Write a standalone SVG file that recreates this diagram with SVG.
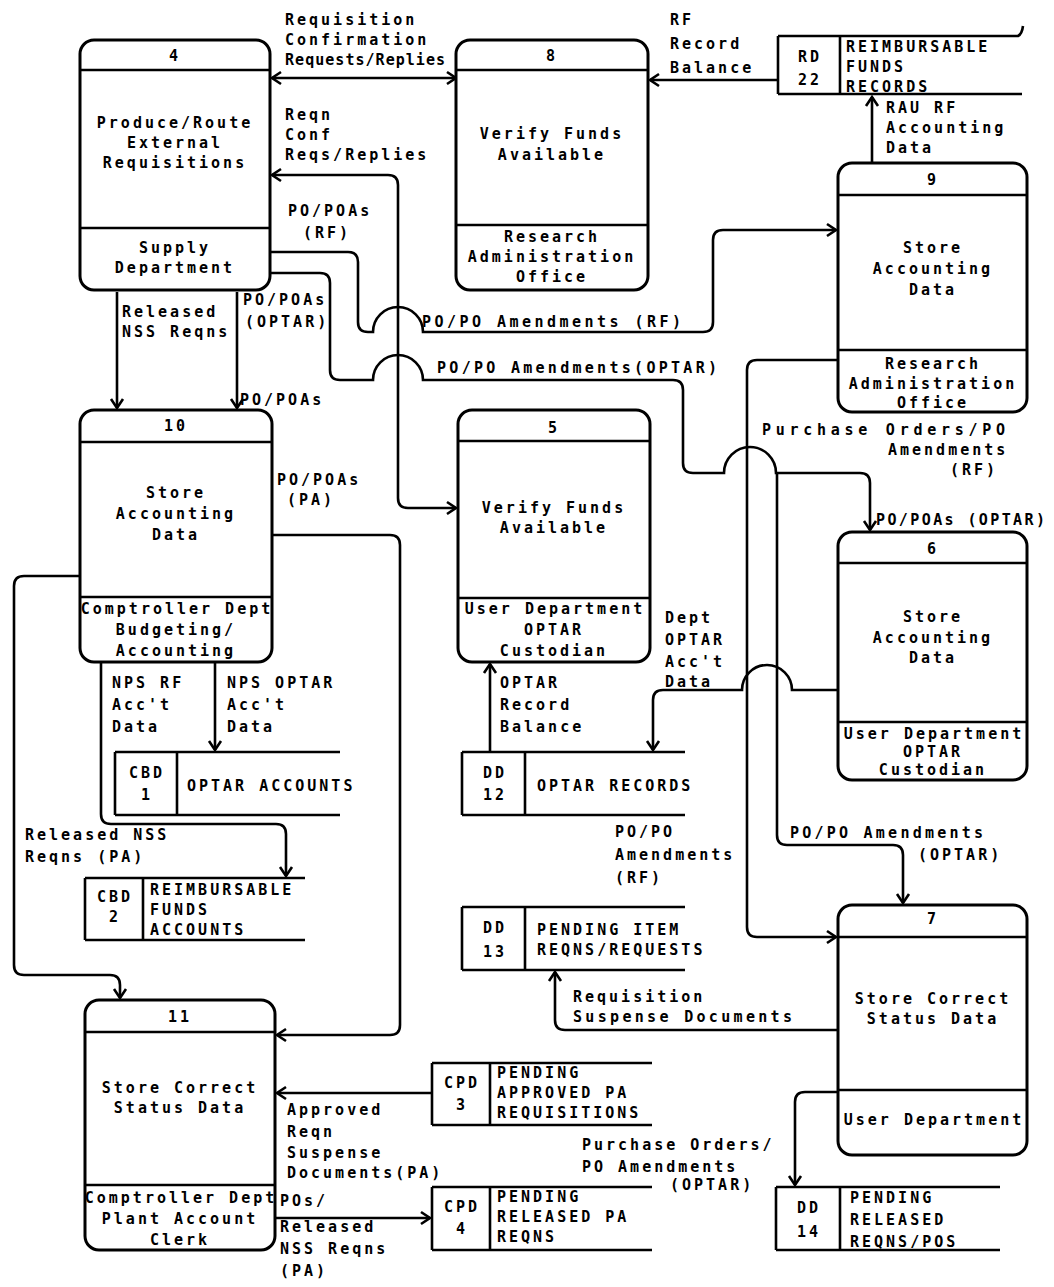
<svg xmlns="http://www.w3.org/2000/svg" width="1054" height="1287" viewBox="0 0 1054 1287">
<style>
text{font-family:"DejaVu Sans Mono","Liberation Mono",monospace;font-size:15px;font-weight:bold;letter-spacing:3px;fill:#000}
.c{text-anchor:middle}
.box{fill:#fff;stroke:#000;stroke-width:3}
.ln{fill:none;stroke:#000;stroke-width:2.6}
.st{fill:none;stroke:#000;stroke-width:2.6}
.fl{fill:none;stroke:#000;stroke-width:2.6;marker-end:url(#ah)}
.bi{fill:none;stroke:#000;stroke-width:2.6;marker-end:url(#ah);marker-start:url(#ah)}
</style>
<defs>
<marker id="ah" viewBox="-12 -8 14 16" markerWidth="14" markerHeight="16" refX="0" refY="0" orient="auto-start-reverse" markerUnits="userSpaceOnUse">
<path d="M-9,-6 L0,0 L-9,6" fill="none" stroke="#000" stroke-width="2.6"/>
</marker>
</defs>
<rect width="1054" height="1287" fill="#fff"/>

<g id="connectors">
<path class="bi" d="M272,78 H456"/>
<path class="fl" d="M778,80 H650"/>
<path class="fl" d="M872,163 V97"/>
<path class="bi" d="M272,175 H388 Q398,175 398,185 V498 Q398,508 408,508 H456"/>
<path class="fl" d="M270,252 H348 Q358,252 358,262 V322 Q358,332 368,332 H373 A25,25 0 0 1 423,332 H703 Q713,332 713,322 V240 Q713,230 723,230 H836"/>
<path class="fl" d="M270,273 H320 Q330,273 330,283 V370 Q330,380 340,380 H373 A25,25 0 0 1 423,380 H673 Q683,380 683,390 V463 Q683,473 693,473 H724 A26,26 0 0 1 776,473 H860 Q870,473 870,483 V530"/>
<path class="fl" d="M777,473 V835 Q777,845 787,845 H893 Q903,845 903,855 V903"/>
<path class="fl" d="M838,360 H757 Q747,360 747,370 V927 Q747,937 757,937 H836"/>
<path class="fl" d="M838,690 H792 A25,25 0 0 0 742,690 H663 Q653,690 653,700 V750"/>
<path class="fl" d="M117,292 V408"/>
<path class="fl" d="M237,292 V408"/>
<path class="fl" d="M272,535 H390 Q400,535 400,545 V1025 Q400,1035 390,1035 H277"/>
<path class="fl" d="M80,576 H24 Q14,576 14,586 V965 Q14,975 24,975 H110 Q120,975 120,985 V998"/>
<path class="fl" d="M101,662 V814 Q101,824 111,824 H276 Q286,824 286,834 V876"/>
<path class="fl" d="M215,662 V750"/>
<path class="fl" d="M490,752 V664"/>
<path class="fl" d="M838,1030 H565 Q555,1030 555,1020 V972"/>
<path class="fl" d="M432,1093 H277"/>
<path class="fl" d="M275,1218 H430"/>
<path class="fl" d="M838,1092 H805 Q795,1092 795,1102 V1185"/>
</g>

<g id="labels">
<text x="285" y="25">Requisition</text>
<text x="285" y="45">Confirmation</text>
<text x="285" y="65" textLength="163" lengthAdjust="spacing">Requests/Replies</text>
<text x="285" y="120">Reqn</text>
<text x="285" y="140">Conf</text>
<text x="285" y="160">Reqs/Replies</text>
<text x="670" y="25">RF</text>
<text x="670" y="49">Record</text>
<text x="670" y="73">Balance</text>
<text x="886" y="113">RAU RF</text>
<text x="886" y="133">Accounting</text>
<text x="886" y="153">Data</text>
<text x="288" y="216">PO/POAs</text>
<text x="303" y="238">(RF)</text>
<text x="243" y="305">PO/POAs</text>
<text x="245" y="327">(OPTAR)</text>
<text x="122" y="317">Released</text>
<text x="122" y="337">NSS Reqns</text>
<text x="240" y="405">PO/POAs</text>
<text x="422" y="327" textLength="262" lengthAdjust="spacing">PO/PO Amendments (RF)</text>
<text x="437" y="373" textLength="283" lengthAdjust="spacing">PO/PO Amendments(OPTAR)</text>
<text x="762" y="435" textLength="246" lengthAdjust="spacing">Purchase Orders/PO</text>
<text x="888" y="455">Amendments</text>
<text x="950" y="475">(RF)</text>
<text x="876" y="525" textLength="172" lengthAdjust="spacing">PO/POAs (OPTAR)</text>
<text x="277" y="485">PO/POAs</text>
<text x="287" y="505">(PA)</text>
<text x="665" y="623">Dept</text>
<text x="665" y="645">OPTAR</text>
<text x="665" y="667">Acc't</text>
<text x="665" y="687">Data</text>
<text x="500" y="688">OPTAR</text>
<text x="500" y="710">Record</text>
<text x="500" y="732">Balance</text>
<text x="112" y="688">NPS RF</text>
<text x="112" y="710">Acc't</text>
<text x="112" y="732">Data</text>
<text x="227" y="688">NPS OPTAR</text>
<text x="227" y="710">Acc't</text>
<text x="227" y="732">Data</text>
<text x="25" y="840">Released NSS</text>
<text x="25" y="862">Reqns (PA)</text>
<text x="615" y="837">PO/PO</text>
<text x="615" y="860">Amendments</text>
<text x="615" y="883">(RF)</text>
<text x="790" y="838" textLength="196" lengthAdjust="spacing">PO/PO Amendments</text>
<text x="918" y="860">(OPTAR)</text>
<text x="573" y="1002">Requisition</text>
<text x="573" y="1022" textLength="222" lengthAdjust="spacing">Suspense Documents</text>
<text x="287" y="1115">Approved</text>
<text x="287" y="1137">Reqn</text>
<text x="287" y="1158">Suspense</text>
<text x="287" y="1178">Documents(PA)</text>
<text x="582" y="1150">Purchase Orders/</text>
<text x="582" y="1172">PO Amendments</text>
<text x="670" y="1190">(OPTAR)</text>
<text x="280" y="1206">POs/</text>
<text x="280" y="1232">Released</text>
<text x="280" y="1254">NSS Reqns</text>
<text x="280" y="1276">(PA)</text>
</g>

<g id="node4">
<rect class="box" x="80" y="40" width="190" height="250" rx="14"/>
<path class="ln" d="M80,70 H270 M80,228 H270"/>
<text class="c" x="175" y="61">4</text>
<text class="c" x="175" y="128">Produce/Route</text>
<text class="c" x="175" y="148">External</text>
<text class="c" x="175" y="168">Requisitions</text>
<text class="c" x="175" y="253">Supply</text>
<text class="c" x="175" y="273">Department</text>
</g>

<g id="node8">
<rect class="box" x="456" y="40" width="192" height="250" rx="14"/>
<path class="ln" d="M456,70 H648 M456,225 H648"/>
<text class="c" x="552" y="61">8</text>
<text class="c" x="552" y="139">Verify Funds</text>
<text class="c" x="552" y="160">Available</text>
<text class="c" x="552" y="242">Research</text>
<text class="c" x="552" y="262">Administration</text>
<text class="c" x="552" y="282">Office</text>
</g>

<g id="store-rd22">
<path class="st" d="M778,36 H1018 Q1022,34 1023,26 M778,94 H1022 M778,36 V94 M840,36 V94"/>
<text class="c" x="810" y="62">RD</text>
<text class="c" x="810" y="85">22</text>
<text x="846" y="52">REIMBURSABLE</text>
<text x="846" y="72">FUNDS</text>
<text x="846" y="92">RECORDS</text>
</g>

<g id="node9">
<rect class="box" x="838" y="163" width="189" height="249" rx="14"/>
<path class="ln" d="M838,195 H1027 M838,350 H1027"/>
<text class="c" x="933" y="185">9</text>
<text class="c" x="933" y="253">Store</text>
<text class="c" x="933" y="274">Accounting</text>
<text class="c" x="933" y="295">Data</text>
<text class="c" x="933" y="369">Research</text>
<text class="c" x="933" y="389">Administration</text>
<text class="c" x="933" y="408">Office</text>
</g>

<g id="node10">
<rect class="box" x="80" y="410" width="192" height="252" rx="14"/>
<path class="ln" d="M80,442 H272 M80,597 H272"/>
<text class="c" x="176" y="431">10</text>
<text class="c" x="176" y="498">Store</text>
<text class="c" x="176" y="519">Accounting</text>
<text class="c" x="176" y="540">Data</text>
<text class="c" x="177" y="614">Comptroller Dept</text>
<text class="c" x="176" y="635">Budgeting/</text>
<text class="c" x="176" y="656">Accounting</text>
</g>

<g id="node5">
<rect class="box" x="458" y="410" width="192" height="252" rx="14"/>
<path class="ln" d="M458,441 H650 M458,598 H650"/>
<text class="c" x="554" y="433">5</text>
<text class="c" x="554" y="513">Verify Funds</text>
<text class="c" x="554" y="533">Available</text>
<text class="c" x="555" y="614">User Department</text>
<text class="c" x="554" y="635">OPTAR</text>
<text class="c" x="554" y="656">Custodian</text>
</g>

<g id="node6">
<rect class="box" x="838" y="532" width="189" height="248" rx="14"/>
<path class="ln" d="M838,563 H1027 M838,722 H1027"/>
<text class="c" x="933" y="554">6</text>
<text class="c" x="933" y="622">Store</text>
<text class="c" x="933" y="643">Accounting</text>
<text class="c" x="933" y="663">Data</text>
<text class="c" x="934" y="739">User Department</text>
<text class="c" x="933" y="757">OPTAR</text>
<text class="c" x="933" y="775">Custodian</text>
</g>

<g id="store-cbd1">
<path class="st" d="M115,752 H340 M115,815 H340 M115,752 V815 M177,752 V815"/>
<text class="c" x="147" y="778">CBD</text>
<text class="c" x="147" y="800">1</text>
<text x="187" y="791">OPTAR ACCOUNTS</text>
</g>

<g id="store-dd12">
<path class="st" d="M462,752 H685 M462,815 H685 M462,752 V815 M525,752 V815"/>
<text class="c" x="495" y="778">DD</text>
<text class="c" x="495" y="800">12</text>
<text x="537" y="791">OPTAR RECORDS</text>
</g>

<g id="store-cbd2">
<path class="st" d="M85,878 H305 M85,940 H305 M85,878 V940 M143,878 V940"/>
<text class="c" x="115" y="902">CBD</text>
<text class="c" x="115" y="922">2</text>
<text x="150" y="895">REIMBURSABLE</text>
<text x="150" y="915">FUNDS</text>
<text x="150" y="935">ACCOUNTS</text>
</g>

<g id="store-dd13">
<path class="st" d="M462,907 H685 M462,970 H685 M462,907 V970 M525,907 V970"/>
<text class="c" x="495" y="933">DD</text>
<text class="c" x="495" y="957">13</text>
<text x="537" y="935">PENDING ITEM</text>
<text x="537" y="955">REQNS/REQUESTS</text>
</g>

<g id="node7">
<rect class="box" x="838" y="905" width="189" height="250" rx="14"/>
<path class="ln" d="M838,937 H1027 M838,1090 H1027"/>
<text class="c" x="933" y="924">7</text>
<text class="c" x="933" y="1004">Store Correct</text>
<text class="c" x="933" y="1024">Status Data</text>
<text class="c" x="934" y="1125">User Department</text>
</g>

<g id="node11">
<rect class="box" x="85" y="1000" width="190" height="250" rx="14"/>
<path class="ln" d="M85,1032 H275 M85,1185 H275"/>
<text class="c" x="180" y="1022">11</text>
<text class="c" x="180" y="1093">Store Correct</text>
<text class="c" x="180" y="1113">Status Data</text>
<text class="c" x="181" y="1203">Comptroller Dept</text>
<text class="c" x="180" y="1224">Plant Account</text>
<text class="c" x="180" y="1245">Clerk</text>
</g>

<g id="store-cpd3">
<path class="st" d="M432,1063 H652 M432,1125 H652 M432,1063 V1125 M490,1063 V1125"/>
<text class="c" x="462" y="1088">CPD</text>
<text class="c" x="462" y="1110">3</text>
<text x="497" y="1078">PENDING</text>
<text x="497" y="1098">APPROVED PA</text>
<text x="497" y="1118">REQUISITIONS</text>
</g>

<g id="store-cpd4">
<path class="st" d="M432,1187 H652 M432,1250 H652 M432,1187 V1250 M490,1187 V1250"/>
<text class="c" x="462" y="1212">CPD</text>
<text class="c" x="462" y="1234">4</text>
<text x="497" y="1202">PENDING</text>
<text x="497" y="1222">RELEASED PA</text>
<text x="497" y="1242">REQNS</text>
</g>

<g id="store-dd14">
<path class="st" d="M776,1187 H1000 M776,1250 H1000 M776,1187 V1250 M840,1187 V1250"/>
<text class="c" x="809" y="1213">DD</text>
<text class="c" x="809" y="1237">14</text>
<text x="850" y="1203">PENDING</text>
<text x="850" y="1225">RELEASED</text>
<text x="850" y="1247">REQNS/POS</text>
</g>
</svg>
